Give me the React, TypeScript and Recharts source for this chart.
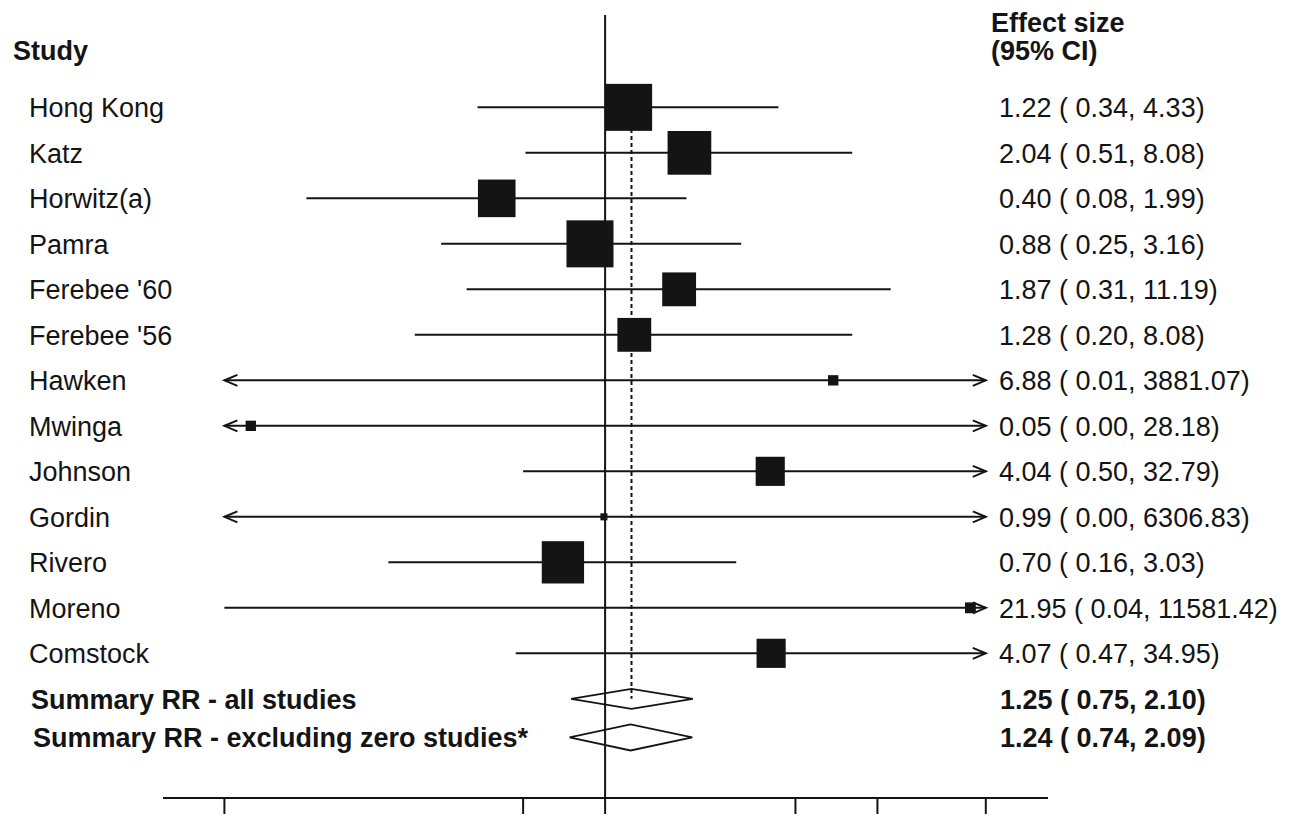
import { ReferenceLine, Scatter, ScatterChart, XAxis, YAxis } from "recharts";

const INK = "#141414";
const FONT = "'Liberation Sans', Arial, Helvetica, sans-serif";
const FONT_SIZE = 27;

// study rows, top to bottom
const studies = [
  "Hong Kong",
  "Katz",
  "Horwitz(a)",
  "Pamra",
  "Ferebee '60",
  "Ferebee '56",
  "Hawken",
  "Mwinga",
  "Johnson",
  "Gordin",
  "Rivero",
  "Moreno",
  "Comstock",
];
const estimates = [1.22, 2.04, 0.4, 0.88, 1.87, 1.28, 6.88, 0.05, 4.04, 0.99, 0.7, 21.95, 4.07];
const lowers = [0.34, 0.51, 0.08, 0.25, 0.31, 0.2, 0.01, 0.0, 0.5, 0.0, 0.16, 0.04, 0.47];
const uppers = [4.33, 8.08, 1.99, 3.16, 11.19, 8.08, 3881.07, 28.18, 32.79, 6306.83, 3.03, 11581.42, 34.95];
// relative box size (study weight), 1 = heaviest
const boxWeights = [1, 0.93, 0.8, 1, 0.72, 0.72, 0.22, 0.22, 0.62, 0.15, 0.9, 0.23, 0.62];

const summaryLabels = ["Summary RR - all studies", "Summary RR - excluding zero studies*"];
const summaryEst = [1.25, 1.24];
const summaryLo = [0.75, 0.74];
const summaryHi = [2.1, 2.09];

const axisTicks = [0.04, 0.5, 1, 5, 10, 25];

// layout
const CLIP_LO = axisTicks[0];
const CLIP_HI = axisTicks[axisTicks.length - 1];
const X_DOMAIN = [0.0238, 42.3];
const Y_DOMAIN = [-2.03, 15.18];
const ROW_PX = 45.5;
const HEADER_ROW = -1.25;
const SUMMARY_ROWS = [13, 13.85];
const DIAMOND_HALF_PX = [10, 13];
const MAX_BOX = 47;

const fmt = (v: number) => v.toFixed(2);
const ciText = (e: number, l: number, h: number) => `${fmt(e)} ( ${fmt(l)}, ${fmt(h)})`;

type Row = { row: number; label: string; text: string; bold: boolean };
const rows: Row[] = [
  ...studies.map((s, i) => ({ row: i, label: s, text: ciText(estimates[i], lowers[i], uppers[i]), bold: false })),
  ...summaryLabels.map((s, i) => ({
    row: SUMMARY_ROWS[i],
    label: s,
    text: ciText(summaryEst[i], summaryLo[i], summaryHi[i]),
    bold: true,
  })),
];

const boxData = studies.map((s, i) => ({ name: s, x: estimates[i], y: i, w: boxWeights[i] }));

const diamondData = summaryEst.map((e, i) => {
  const r = SUMMARY_ROWS[i];
  const h = DIAMOND_HALF_PX[i] / ROW_PX;
  return [
    { x: summaryLo[i], y: r },
    { x: e, y: r - h },
    { x: summaryHi[i], y: r },
    { x: e, y: r + h },
    { x: summaryLo[i], y: r },
  ];
});

function RowTick(props: any) {
  const { y, payload } = props;
  const v = payload.value;
  if (v === HEADER_ROW) {
    return (
      <g fontFamily={FONT} fontSize={FONT_SIZE} fontWeight="bold" fill={INK}>
        <text x={13} y={y + 10}>Study</text>
        <text x={991} y={y + 10}>
          <tspan x={991} dy={-28.5}>Effect size</tspan>
          <tspan x={991} dy={28.5}>(95% CI)</tspan>
        </text>
      </g>
    );
  }
  const r = rows.find((d) => d.row === v);
  if (!r) return <g />;
  return (
    <g fontFamily={FONT} fontSize={FONT_SIZE} fontWeight={r.bold ? "bold" : "normal"} fill={INK}>
      <text x={r.bold ? (r.row === SUMMARY_ROWS[0] ? 31 : 33) : 29} y={y + 10}>
        {r.label}
      </text>
      <text x={r.bold ? 1000 : 999} y={y + 10}>
        {r.text}
      </text>
    </g>
  );
}

function CiLine(props: any) {
  const { x1, y1, x2, arrowL, arrowR } = props;
  const len = 13;
  const half = 5.5;
  return (
    <g stroke={INK} strokeWidth={2} fill="none">
      <line x1={x1} y1={y1} x2={x2} y2={y1} />
      {arrowL && <polyline points={`${x1 + len},${y1 - half} ${x1},${y1} ${x1 + len},${y1 + half}`} />}
      {arrowR && <polyline points={`${x2 - len},${y1 - half} ${x2},${y1} ${x2 - len},${y1 + half}`} />}
    </g>
  );
}

const Box = (p: any) => {
  const s = p.payload.w * MAX_BOX;
  return <rect x={p.cx - s / 2} y={p.cy - s / 2} width={s} height={s} fill={INK} />;
};

const NoDot = () => <g />;

export default function App() {
  return (
    <div style={{ position: "absolute", left: 0, top: 0, width: 1289, height: 816, background: "#fff" }}>
      <ScatterChart width={1289} height={816} margin={{ top: 15, right: 241, bottom: 0, left: 0 }}>
        <XAxis
          type="number"
          dataKey="x"
          scale="log"
          domain={X_DOMAIN}
          allowDataOverflow
          ticks={axisTicks}
          interval={0}
          tick={NoDot}
          tickSize={16}
          height={18}
          axisLine={{ stroke: INK, strokeWidth: 2 }}
          tickLine={{ stroke: INK, strokeWidth: 2 }}
        />
        <YAxis
          type="number"
          dataKey="y"
          domain={Y_DOMAIN}
          reversed
          allowDataOverflow
          width={163}
          ticks={[HEADER_ROW, ...rows.map((r) => r.row)]}
          interval={0}
          tick={RowTick}
          tickLine={false}
          axisLine={false}
        />
        <ReferenceLine x={1} stroke={INK} strokeWidth={2} />
        <ReferenceLine
          segment={[
            { x: summaryEst[0], y: -0.45 },
            { x: summaryEst[0], y: SUMMARY_ROWS[0] },
          ]}
          stroke={INK}
          strokeWidth={2}
          strokeDasharray="4 3"
        />
        {studies.map((s, i) => {
          const lo = Math.max(lowers[i], CLIP_LO);
          const hi = Math.min(uppers[i], CLIP_HI);
          const arrowL = lowers[i] < CLIP_LO;
          const arrowR = uppers[i] > CLIP_HI;
          return (
            <ReferenceLine
              key={s}
              segment={[
                { x: lo, y: i },
                { x: hi, y: i },
              ]}
              shape={(p: any) => <CiLine {...p} arrowL={arrowL} arrowR={arrowR} />}
            />
          );
        })}
        <Scatter data={boxData} shape={Box} isAnimationActive={false} />
        {diamondData.map((d, i) => (
          <Scatter
            key={i}
            data={d}
            line={{ stroke: INK, strokeWidth: 1.8, fill: "none" }}
            lineType="joint"
            shape={NoDot}
            fill="none"
            isAnimationActive={false}
          />
        ))}
      </ScatterChart>
    </div>
  );
}
